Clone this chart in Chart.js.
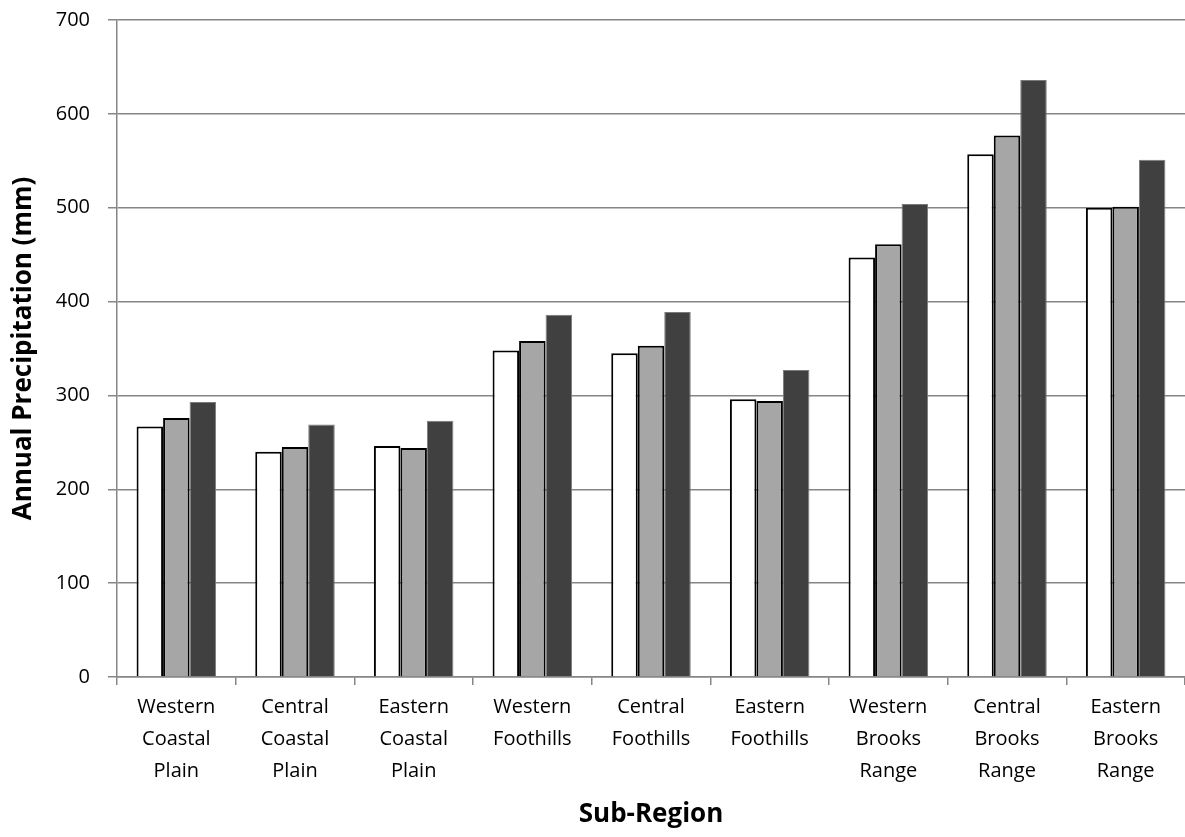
<!DOCTYPE html>
<html>
<head>
<meta charset="utf-8">
<script src="https://cdn.jsdelivr.net/npm/chart.js@4"></script>
<style>
html,body{margin:0;padding:0;background:#fff;}
#wrap{width:1185px;height:837px;position:relative;}
</style>
</head>
<body>
<div id="wrap"><canvas id="c" width="1185" height="837"></canvas></div>
<script>
const categories = [
  ["Western","Coastal","Plain"],
  ["Central","Coastal","Plain"],
  ["Eastern","Coastal","Plain"],
  ["Western","Foothills"],
  ["Central","Foothills"],
  ["Eastern","Foothills"],
  ["Western","Brooks","Range"],
  ["Central","Brooks","Range"],
  ["Eastern","Brooks","Range"]
];
const seriesA = [267, 240, 246, 348, 345, 296, 447, 557, 500];
const seriesB = [276, 245, 244, 358, 353, 294, 461, 577, 501];
const seriesC = [293, 269, 273, 386, 389, 327, 504, 636, 551];
const yTicks = [0, 100, 200, 300, 400, 500, 600, 700];

const FONT = "'Open Sans', 'Liberation Sans', sans-serif";

new Chart(document.getElementById('c'), {
  type: 'bar',
  data: {
    labels: categories,
    datasets: [
      {label: 'A', data: seriesA, backgroundColor: '#ffffff', borderColor: '#000000', borderWidth: 2},
      {label: 'B', data: seriesB, backgroundColor: '#a6a6a6', borderColor: '#000000', borderWidth: 2},
      {label: 'C', data: seriesC, backgroundColor: '#404040', borderColor: '#7a7a7a', borderWidth: 1}
    ]
  },
  options: {
    responsive: false,
    animation: false,
    devicePixelRatio: 1,
    layout: {padding: {left: 4, top: 20, right: 0, bottom: 3}},
    plugins: {legend: {display: false}, tooltip: {enabled: false}},
    datasets: {bar: {categoryPercentage: 0.67, barPercentage: 1.0}},
    scales: {
      x: {
        grid: {display: true, drawOnChartArea: false, drawTicks: true, tickLength: 8, color: '#868686', lineWidth: 1.5},
        border: {display: true, color: '#868686', width: 1.5},
        ticks: {color: '#000', font: {family: FONT, size: 20, lineHeight: 1.6}, padding: 6, maxRotation: 0, autoSkip: false},
        title: {display: true, text: 'Sub-Region', color: '#000', font: {family: FONT, size: 26, weight: 'bold', lineHeight: 1.2}},
        afterFit: s => { s.height = 157; s.paddingLeft = 0; s.paddingRight = 0; }
      },
      y: {
        min: 0, max: 700,
        afterBuildTicks: s => { s.ticks = yTicks.map(v => ({value: v})); },
        grid: {color: '#868686', lineWidth: 1.5, tickLength: 9, drawTicks: true},
        border: {display: true, color: '#868686', width: 1.5},
        ticks: {color: '#000', font: {family: FONT, size: 20}, padding: 18},
        title: {display: true, text: 'Annual Precipitation (mm)', color: '#000', font: {family: FONT, size: 26, weight: 'bold', lineHeight: 1.2}},
        afterFit: s => { s.width = 113; s.paddingTop = 0; s.paddingBottom = 0; }
      }
    }
  }
});
</script>
</body>
</html>
